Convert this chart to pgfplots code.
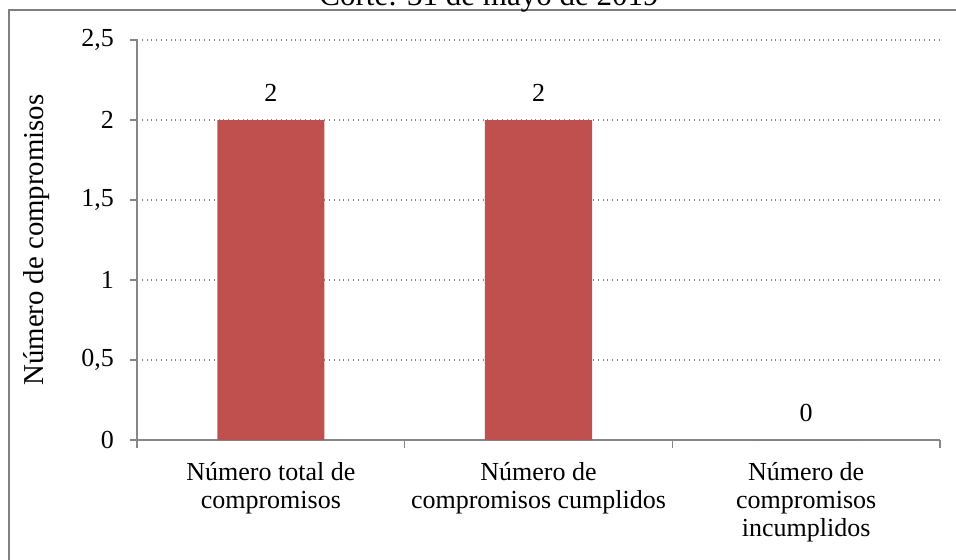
\documentclass[border=0pt]{standalone}
\usepackage{fontspec}
\setmainfont{Liberation Serif}
\usepackage{pgfplots}
\pgfplotsset{compat=1.18}
\definecolor{barred}{HTML}{C0504D}
\definecolor{axgray}{HTML}{868686}
\definecolor{framegray}{HTML}{7F7F7F}
\begin{document}
\begin{tikzpicture}
\path[use as bounding box] (0,0) rectangle (478pt,-279.5pt);
% marco del grafico
\draw[framegray, line width=1pt] (4.5pt,-285pt) -- (4.5pt,-4.75pt) -- (485pt,-4.75pt);
\node[anchor=base, font=\fontsize{15.5}{18}\selectfont] at (244.5pt,-2.5pt) {Corte: 31 de mayo de 2019};
\begin{axis}[
  at={(68.5pt,-220pt)}, anchor=south west,
  scale only axis, width=401.5pt, height=200pt,
  font=\fontsize{13}{14}\selectfont,
  xmin=-0.5, xmax=2.5, ymin=0, ymax=2.5,
  ytick={0,0.5,1,1.5,2,2.5},
  xtick={0,1,2},
  xticklabels={{Número total de\\compromisos},{Número de\\compromisos cumplidos},{Número de\\compromisos\\incumplidos}},
  xticklabel style={align=center, text depth=0pt, yshift=-4pt},
  yticklabel style={xshift=-4.5pt},
  minor xtick={-0.5,0.5,1.5,2.5},
  x tick style={draw=none},
  minor x tick style={draw=axgray, line width=0.8pt},
  y tick style={draw=axgray, line width=0.8pt},
  major tick length=3.5pt, minor tick length=4pt,
  tick align=outside,
  axis x line*=bottom, axis y line*=left,
  axis line style={draw=axgray, line width=1pt, -},
  ymajorgrids, grid style={dotted, axgray, line width=0.6pt},
  /pgf/number format/assume math mode=true,
  /pgf/number format/use comma,
  ylabel={Número de compromisos},
  ylabel style={at={(axis description cs:-0.125,0.5)}, anchor=center, font=\fontsize{14.4}{16}\selectfont},
  nodes near coords,
  nodes near coords style={yshift=5.5pt, /pgf/number format/assume math mode=true},
  ybar, bar width=0.4,
]
\addplot[fill=barred, draw=none] coordinates {(0,2) (1,2) (2,0)};
\end{axis}
\end{tikzpicture}
\end{document}
